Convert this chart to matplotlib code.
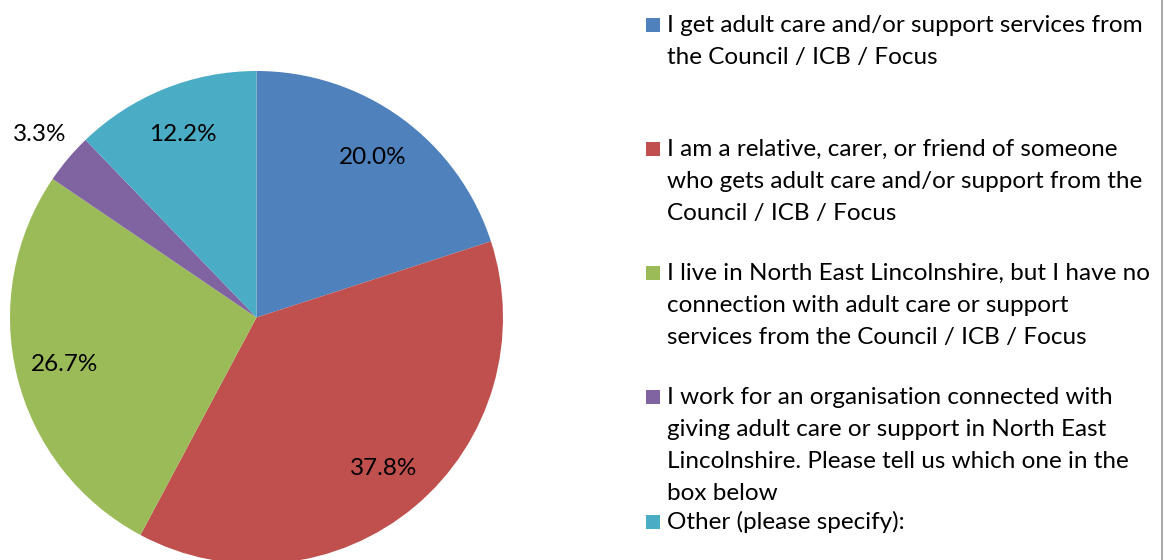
import matplotlib
matplotlib.use('Agg')
import matplotlib.pyplot as plt
import numpy as np
from matplotlib.patches import Rectangle
from matplotlib.lines import Line2D

categories = [
    "I get adult care and/or support services from\nthe Council / ICB / Focus",
    "I am a relative, carer, or friend of someone\nwho gets adult care and/or support from the\nCouncil / ICB / Focus",
    "I live in North East Lincolnshire, but I have no\nconnection with adult care or support\nservices from the Council / ICB / Focus",
    "I work for an organisation connected with\ngiving adult care or support in North East\nLincolnshire. Please tell us which one in the\nbox below",
    "Other (please specify):",
]
shares = [20.0, 37.8, 26.7, 3.3, 12.2]
colors = ['#4F81BD', '#C0504D', '#9BBB59', '#8064A2', '#4BACC6']

plt.rcParams['font.family'] = ['Lato', 'DejaVu Sans']

W, H = 1166, 560
fig = plt.figure(figsize=(W / 100, H / 100), dpi=100)

# pie axes: centre (256.5, 317.5) px from top-left, radius 246.5 px
cx, cy, r = 256.5, 317.5, 246.5
ax = fig.add_axes([(cx - r) / W, (H - cy - r) / H, 2 * r / W, 2 * r / H])
wedges, texts = ax.pie(shares, colors=colors, startangle=90, counterclock=False,
                       radius=1.0, wedgeprops=dict(linewidth=0))
ax.set_xlim(-1, 1)
ax.set_ylim(-1, 1)
ax.set_aspect('equal')
ax.axis('off')

cum = np.cumsum([0] + shares)
for i, v in enumerate(shares):
    mid = np.deg2rad(90 - 3.6 * (cum[i] + v / 2))
    d = 1.15 if v < 5 else 0.8
    ax.text(d * np.cos(mid), d * np.sin(mid), f'{v:.1f}%', ha='center', va='center',
            fontsize=17.5, color='black')

# legend drawn by hand to follow the spread-out layout
tops = [25, 149, 273, 397, 522]
line_h = 32.3
for top, lab, c in zip(tops, categories, colors):
    fig.patches.append(Rectangle((646 / W, (H - top - 7) / H), 14 / W, 14 / H,
                                 transform=fig.transFigure, facecolor=c, edgecolor='none'))
    for j, ln in enumerate(lab.split('\n')):
        fig.text(667 / W, (H - top - j * line_h) / H, ln, ha='left', va='center',
                 fontsize=17.5, color='black')

fig.lines.append(Line2D([1162 / W, 1162 / W], [0, 1], transform=fig.transFigure,
                        color='#9a9a9a', linewidth=1.2))

fig.savefig('out.png', dpi=100)
